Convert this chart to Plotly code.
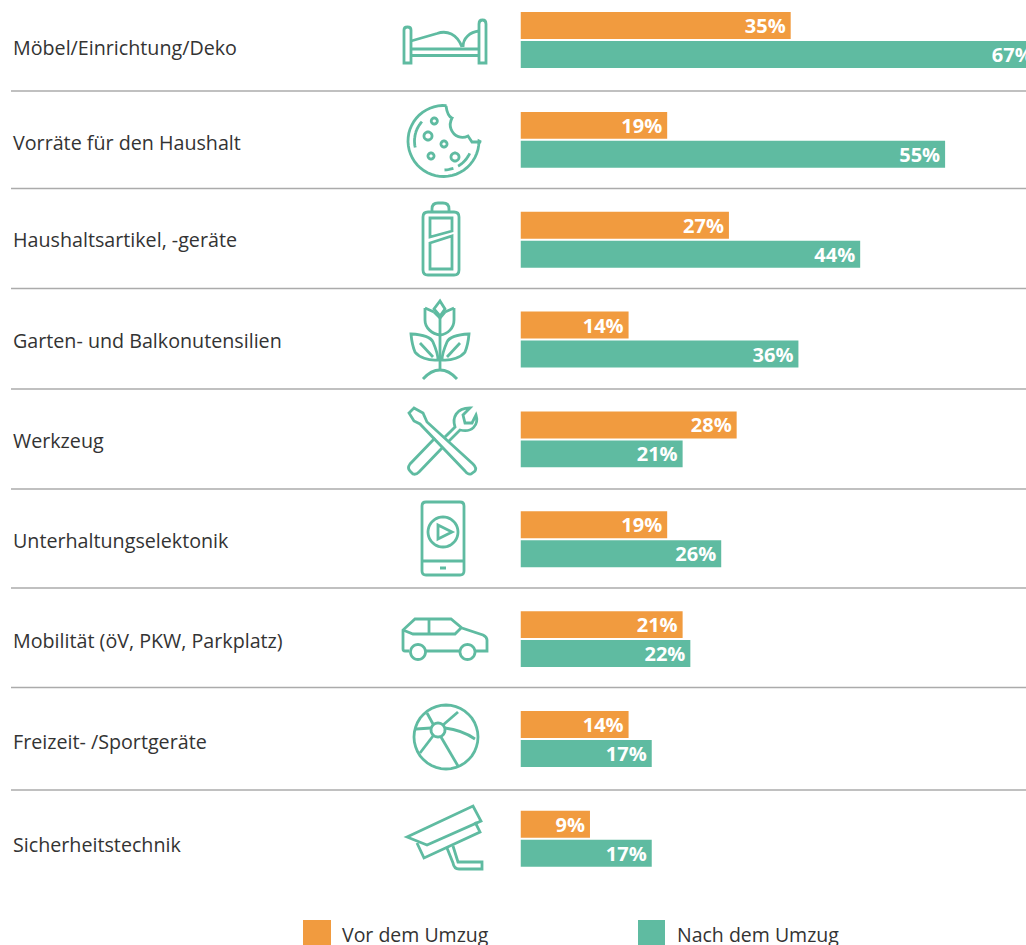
import re, math
import plotly.graph_objects as go

W, H = 1026, 945
categories = ["Möbel/Einrichtung/Deko", "Vorräte für den Haushalt", "Haushaltsartikel, -geräte",
              "Garten- und Balkonutensilien", "Werkzeug", "Unterhaltungselektonik",
              "Mobilität (öV, PKW, Parkplatz)", "Freizeit- /Sportgeräte", "Sicherheitstechnik"]
vor_dem_umzug = [35, 19, 27, 14, 28, 19, 21, 14, 9]
nach_dem_umzug = [67, 55, 44, 36, 21, 26, 22, 17, 17]
series_names = ["Vor dem Umzug", "Nach dem Umzug"]
label_nudge = [-7, -3, 0, -1, -1.5, -1, -1, -3, -6]

ORANGE, GREEN = "#F19B3F", "#5FBBA1"
TXT = "#333333"
FONT = "Open Sans"

def px(d):
    """pixel path -> paper path"""
    out, is_x = [], True
    for t in re.findall(r"[A-Za-z]|-?\d+\.?\d*", d):
        if t.isalpha():
            out.append(t); is_x = True
        else:
            v = float(t)
            out.append(f"{v/W:.5f}" if is_x else f"{1-v/H:.5f}")
            is_x = not is_x
    s = ""
    for t in out:
        s += t if t.isalpha() else t + " "
    return s

def arc(cx, cy, r, a0, a1, n=40):
    pts = []
    for i in range(n + 1):
        a = math.radians(a0 + (a1 - a0) * i / n)
        pts.append(f"{'L' if i else 'M'}{cx + r*math.cos(a):.1f} {cy + r*math.sin(a):.1f}")
    return "".join(pts)

def circ(cx, cy, r):
    return arc(cx, cy, r, 0, 360) + "Z"

def rrect(x0, y0, x1, y1, r):
    return (f"M{x0+r} {y0}L{x1-r} {y0}Q{x1} {y0} {x1} {y0+r}L{x1} {y1-r}Q{x1} {y1} {x1-r} {y1}"
            f"L{x0+r} {y1}Q{x0} {y1} {x0} {y1-r}L{x0} {y0+r}Q{x0} {y0} {x0+r} {y0}Z")

icons = [
    # bed
    "M404 63L404 30Q404 27 407.5 27Q411 27 411 30L411 63Z",
    "M479 63L479 24Q479 20 482.5 20Q486 20 486 24L486 63Z",
    "M411 49L479 49", "M411 55.5L479 55.5",
    "M411 41L437 33.5C447 30 457 34 462 47", "M463 47C463 38 470 32 479 31",
    # cookie
    arc(443.5, 141, 35.5, -85, -360) + "L481 142L472 142L468 136C462 139 454 137 451 129C449 124 451 120 452 118C449 117 447 113 446 106",
    arc(443.5, 141, 29, 167, 222), arc(443.5, 141, 29, 25, 60), arc(443.5, 141, 29, 70, 88, 8),
    circ(434.3, 121, 3), circ(428, 136, 4), circ(444, 144, 3), circ(431, 156, 3), circ(455, 157, 4),
    # battery
    rrect(423, 212, 459, 275, 5), "M432 212L432 209Q432 203 438 203L443 203Q449 203 449 209L449 212",
    "M430 218L452 218L452 231L430 237Z", "M430 243L452 236L452 269L430 269Z",
    # flower
    "M440 317L440 370", "M440 301L445 309L440 316L434 309Z",
    "M425 308L434 312M454 308L445 312",
    "M425 308L425 320C425 328 432 334 440 335C448 334 454 328 454 320L454 308",
    "M434 312L440 318M445 312L440 318",
    "M411 334Q430 335 433 342C436 349 438 355 438 360C428 361 419 357 415 352Q412 345 411 334Z",
    "M469 334Q450 335 447 342C444 349 442 355 442 360C452 361 461 357 465 352Q468 345 469 334Z",
    "M420 343L433 357", "M460 343L447 357",
    "M423 379Q431 370 440 370Q449 370 457 379",
    # tools
    "M409 413L414 408L423 413L427 422L473 464Q477 468 475 471L471 474Q468 475 465 471L420 424L414 421Z",
    "M435 438L410 464Q407 468 410 471L413 474Q416 475 419 472L443 447",
    "M445 437L455 427C452 418 456 408 470 408L463 415L465 423L472 423L476 415C479 425 472 433 460 430L448 442",
    # phone
    rrect(422, 502, 464, 575, 4), "M422 561L464 561", circ(443, 532, 15),
    "M438 525L452 532L438 539Z",
    # car
    "M409 651L405 651Q403 651 403 649L403 630L415 619L451 619L462 628L483 635Q487 637 487 640L487 651L476 651",
    "M459 651L426 651",
    circ(467.5, 652, 7.5), circ(418, 652, 7.5),
    "M403 630L413 634L455 634L461 628", "M429 619L429 634",
    # ball
    circ(446, 737, 32), circ(438, 730, 7),
    "M427 713L433 724", "M458 712L443 725", "M416 729L431 728", "M433 736L420 753", "M441 737L458 766",
    "M445 728Q462 730 475 739",
    # camera
    "M407 837L473 806L481 821L427 845Z", "M417 843L424 858L480 832L475 822",
    "M447 848L453 863Q454 869 459 869L482 869L482 862L458 862L453 846",
]
icon_shapes = [dict(type="path", xref="paper", yref="paper", path=px(p),
                    line=dict(color=GREEN, width=2.8), layer="above") for p in icons]
icon_shapes.append(dict(type="line", xref="paper", yref="paper", x0=440/W, x1=446/W, y0=1-568/H, y1=1-568/H,
                        line=dict(color=GREEN, width=3)))

sep_y = [91, 188.5, 288.5, 389, 489, 588, 687.5, 790]
sep_shapes = [dict(type="line", xref="paper", yref="paper", x0=11/W, x1=1, y0=1-y/H, y1=1-y/H,
                   line=dict(color="#ABABAB", width=1.3)) for y in sep_y]

legend_shapes = [
    dict(type="rect", xref="paper", yref="paper", x0=303/W, x1=331/W, y0=0, y1=1-920/H, fillcolor=ORANGE, line_width=0),
    dict(type="rect", xref="paper", yref="paper", x0=638/W, x1=665/W, y0=0, y1=1-920/H, fillcolor=GREEN, line_width=0),
]

def bar(vals, name, color):
    return go.Bar(y=categories, x=vals, name=name, orientation="h", marker=dict(color=color, line_width=0),
                  text=[f"{v}%\u200a" for v in vals], textposition="inside", insidetextanchor="end",
                  textangle=0, constraintext="none",
                  insidetextfont=dict(family=FONT, size=20, color="white", weight=700),
                  hoverinfo="skip")

fig = go.Figure([bar(vor_dem_umzug, series_names[0], ORANGE), bar(nach_dem_umzug, series_names[1], GREEN)])

annotations = [dict(x=13/W, xref="paper", y=c, yref="y", text=c, showarrow=False, xanchor="left", yanchor="middle",
                    xshift=-2, yshift=n, font=dict(family=FONT, size=19.7, color=TXT))
               for c, n in zip(categories, label_nudge)]
annotations += [
    dict(x=342/W, y=1-934/H, xref="paper", yref="paper", text=series_names[0], showarrow=False, xanchor="left",
         yanchor="middle", xshift=-2, font=dict(family=FONT, size=19.5, color=TXT)),
    dict(x=677/W, y=1-934/H, xref="paper", yref="paper", text=series_names[1], showarrow=False, xanchor="left",
         yanchor="middle", xshift=-2, font=dict(family=FONT, size=19.5, color=TXT)),
]

pitch = 99.85
top_center = 40
fig.update_layout(
    width=W, height=H, margin=dict(l=0, r=0, t=0, b=0), autosize=False,
    paper_bgcolor="white", plot_bgcolor="white", showlegend=False,
    barmode="group", bargap=0.42, bargroupgap=0.07,
    shapes=sep_shapes + icon_shapes + legend_shapes, annotations=annotations,
    xaxis=dict(domain=[520.5/W, 1], range=[0, (W-520.5)/7.72], visible=False),
    yaxis=dict(domain=[0, 1], range=[(H-top_center)/pitch, -top_center/pitch], visible=False,
               categoryorder="array", categoryarray=categories, anchor="free", position=0.5),
)
fig.write_html("out.html", config=dict(displayModeBar=False),
               post_script="document.body.style.margin='0';document.body.style.overflow='hidden';")
